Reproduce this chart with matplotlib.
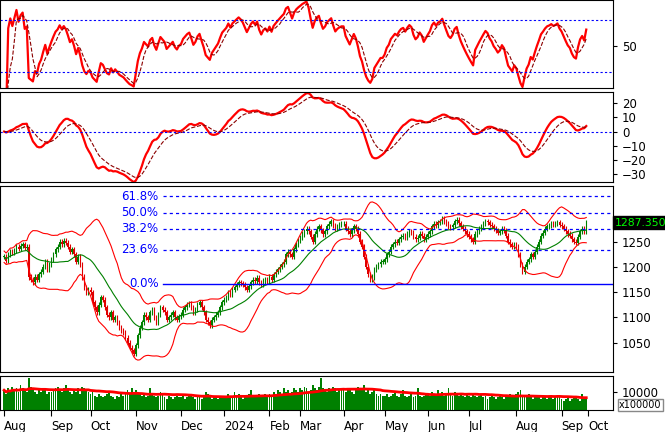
import numpy as np
import pandas as pd
import matplotlib
matplotlib.use('Agg')
import matplotlib.pyplot as plt

# daily closes, Aug 2023 .. Sep 2024 (one list per month)
closes_by_month = [
    [1220,1212,1225,1230,1228,1233,1240,1236,1242,1245,1238,1240,1180,1175,1170,1180,1175,1185,1190,1200,1210,1195,1205],
    [1215,1225,1235,1240,1250,1245,1252,1248,1240,1230,1235,1225,1210,1220,1205,1180,1160,1150,1155],
    [1150,1130,1120,1110,1125,1140,1135,1120,1105,1100,1110,1095,1100,1090,1080,1075,1070,1060,1050,1040,1035,1028],
    [1045,1065,1080,1090,1105,1100,1095,1110,1115,1100,1090,1105,1120,1115,1110,1095,1100,1105,1110,1100,1095,1102],
    [1105,1115,1120,1125,1128,1120,1110,1115,1125,1130,1120,1110,1095,1090,1085,1095,1100,1105,1110,1120,1130],
    [1135,1140,1150,1145,1155,1160,1165,1170,1168,1165,1160,1155,1162,1170,1175,1172,1178,1170,1165,1172,1175,1172],
    [1180,1175,1185,1190,1195,1200,1205,1210,1225,1230,1225,1220,1235,1245,1252],
    [1258,1265,1270,1275,1270,1260,1250,1265,1275,1280,1272,1265,1270,1280,1285,1290,1282,1275,1280,1283,1285],
    [1285,1275,1270,1265,1272,1280,1275,1265,1250,1240,1220,1200,1185,1175,1180,1195,1200,1205,1210,1210],
    [1215,1225,1230,1240,1245,1250,1248,1255,1260,1262,1258,1265,1270,1268,1260,1255,1258,1265,1262,1255,1260],
    [1265,1270,1280,1285,1282,1288,1290,1295,1290,1285,1280,1278,1282,1290,1293,1286,1280,1275,1270,1265],
    [1260,1255,1250,1265,1270,1275,1280,1285,1290,1288,1283,1280,1275,1272,1268,1270,1275,1272,1262,1250,1245,1240,1245],
    [1240,1225,1205,1190,1200,1210,1215,1225,1220,1230,1240,1250,1262,1268,1275,1280,1282,1285,1283,1285,1288,1283],
    [1280,1275,1270,1265,1262,1255,1250,1248,1260,1270,1275,1270,1287.35],
]
# volume in thousands of x100000 units
volume_by_month = [
    [11,9,12,10,13,11,12,10,14,12,11,10,18,13,12,10,9,11,10,12,11,9,10],
    [10,11,12,13,11,10,12,14,11,10,9,11,10,12,9,13,12,11,10],
    [9,10,8,7,9,8,7,8,9,10,8,7,6,8,7,9,8,10,11,9,12,10],
    [11,10,9,8,9,7,8,12,9,8,7,8,10,9,7,6,8,7,6,7,8,7],
    [7,8,6,7,9,8,7,6,8,7,6,8,10,9,7,6,7,8,6,7,8],
    [8,7,9,8,7,10,8,9,7,6,8,7,9,11,8,7,8,9,7,8,9,8],
    [9,8,10,9,11,10,9,12,10,11,9,10,12,11,10],
    [12,11,13,12,10,11,14,12,11,13,18,12,11,10,12,11,13,12,10,11,12],
    [11,10,12,11,10,9,11,13,12,11,14,10,12,9,10,11,9,8,9,8],
    [8,9,7,8,9,10,8,7,9,11,8,7,8,9,7,8,12,8,7,8,9],
    [9,8,10,9,8,11,9,10,8,9,12,9,8,10,9,8,9,8,7,9],
    [8,7,9,8,7,8,9,7,8,6,7,8,7,6,7,8,7,6,8,7,9,8,7],
    [9,10,11,8,7,8,9,7,6,7,8,7,6,8,7,6,7,8,6,7,8,7],
    [6,5,6,7,5,6,8,7,6,5,9,6,7],
]
month_labels = ['Aug','Sep','Oct','Nov','Dec','2024','Feb','Mar','Apr','May','Jun','Jul','Aug','Sep','Oct']
fib_labels = ['61.8%','50.0%','38.2%','23.6%','0.0%']
fib_levels = [1340, 1307, 1275, 1234, 1167]

close = pd.Series(np.concatenate(closes_by_month), dtype=float)
vol = pd.Series(np.concatenate(volume_by_month), dtype=float) * 1000
opn = close.shift(1).fillna(close.iloc[0])
n = len(close)
x = np.arange(n)
month_starts = np.concatenate([[0], np.cumsum([len(m) for m in closes_by_month])])

# indicators
mid = close.rolling(20, min_periods=1).mean()
sd = close.rolling(20, min_periods=2).std().bfill()
upper, lower = mid + 2 * sd, mid - 2 * sd
delta = close.diff().fillna(0)
gain = delta.clip(lower=0).ewm(alpha=1/14, adjust=False).mean()
loss = (-delta.clip(upper=0)).ewm(alpha=1/14, adjust=False).mean()
rsi = 100 - 100 / (1 + gain / loss.replace(0, 1e-9))
rsi_sig = rsi.rolling(5, min_periods=1).mean()
macd = close.ewm(span=12, adjust=False).mean() - close.ewm(span=26, adjust=False).mean()
macd_sig = macd.ewm(span=9, adjust=False).mean()
vol_ma = vol.rolling(30, min_periods=1).mean()

W, H = 665, 432
fig = plt.figure(figsize=(W/100, H/100), dpi=100)
def pax(top, bot):
    ax = fig.add_axes([0, 1 - bot/H, 613/W, (bot - top)/H])
    ax.yaxis.tick_right()
    ax.set_xlim(-2, 296)
    ax.tick_params(axis='both', labelsize=8.5, length=3, direction='out')
    ax.set_xticks([])
    return ax

ax1 = pax(0, 88)
ax1.plot(x, rsi, color='red', lw=1.6)
ax1.plot(x, rsi_sig, color='#8b0000', lw=0.8, ls='--')
for lv in (70, 30):
    ax1.axhline(lv, color='blue', ls=(0, (2, 2)), lw=0.8)
ax1.set_ylim(17.7, 85.4)
ax1.set_yticks([50])

ax2 = pax(92, 182)
ax2.plot(x, macd, color='red', lw=1.6)
ax2.plot(x, macd_sig, color='#8b0000', lw=0.8, ls='--')
ax2.axhline(0, color='blue', ls=(0, (2, 2)), lw=0.8)
ax2.set_ylim(-35.7, 28)
ax2.set_yticks([20, 10, 0, -10, -20, -30])

ax3 = pax(186, 372)
hi = np.maximum(opn, close) + 5
lo = np.minimum(opn, close) - 5
col = np.where(close >= opn, '#008000', '#e00000')
ax3.vlines(x, lo, hi, colors=col, lw=0.8)
ax3.bar(x, (close - opn).abs().clip(lower=0.8), bottom=np.minimum(opn, close), width=0.7, color=col)
ax3.plot(x, upper, color='red', lw=0.8)
ax3.plot(x, lower, color='red', lw=0.8)
ax3.plot(x, mid, color='green', lw=0.8)
for lab, lv in zip(fib_labels, fib_levels):
    ax3.plot([77, 296], [lv, lv], color='blue', lw=1.0 if lab == '0.0%' else 0.9,
             ls='-' if lab == '0.0%' else (0, (2.5, 2.5)))
    ax3.text(75, lv, lab, color='blue', fontsize=8.5, ha='right', va='center')
ax3.set_ylim(992, 1360)
ax3.set_yticks([1050, 1100, 1150, 1200, 1250])
ax3.text(1.003, (close.iloc[-1] - 992) / (1360 - 992), '%.3f' % close.iloc[-1], transform=ax3.transAxes,
         color='#00ff00', fontsize=7.8, va='center', ha='left', clip_on=False,
         bbox=dict(boxstyle='square,pad=0.15', fc='black', ec='black'))

ax4 = pax(376, 410)
ax4.bar(x, vol, width=0.9, color='#008000')
ax4.plot(x, vol_ma, color='red', lw=2)
ax4.set_ylim(0, 18900)
ax4.set_yticks([10000])
ax4.set_yticklabels(['10000'])
ax4.text(1.01, 0.15, 'x100000', transform=ax4.transAxes, fontsize=7, va='center',
         bbox=dict(fc='white', ec='#888888', pad=1))
ax4.set_xticks(list(month_starts))
ax4.set_xticklabels(month_labels, ha='left', fontsize=8.5)
ax4.tick_params(axis='x', length=4)

fig.savefig('out.png', dpi=100)
